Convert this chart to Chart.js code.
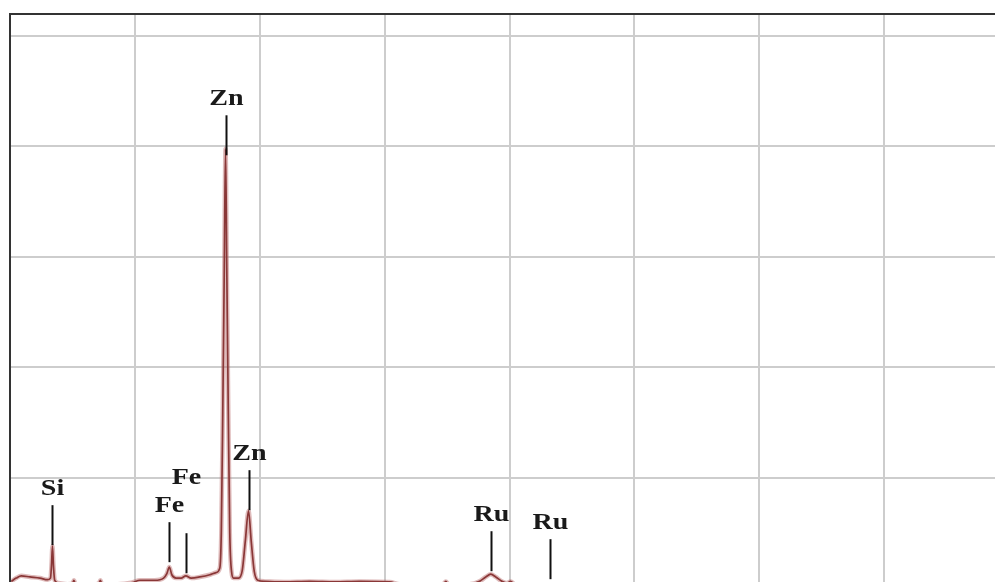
<!DOCTYPE html>
<html>
<head>
<meta charset="utf-8">
<script src="https://cdn.jsdelivr.net/npm/chart.js@4.4.0/dist/chart.umd.min.js"></script>
<style>
  html, body { margin: 0; padding: 0; background: #fff; overflow: hidden; }
  #wrap { width: 1012px; height: 600px; }
</style>
</head>
<body>
<div id="wrap"><canvas id="eds" width="1012" height="600"></canvas></div>
<script>
// EDS spectrum: energy (keV) vs intensity (arbitrary units)
const energyKeV = [
  0.05, 0.25, 0.45, 0.8, 1.2, 1.5, 1.62, 1.66, 1.70, 1.74, 1.79, 1.95,
  2.3, 2.5, 2.56, 2.62, 3.0, 3.55, 3.62, 3.68, 4.3, 4.9,
  5.2, 5.8, 6.15, 6.28, 6.38, 6.48, 6.65, 6.85, 7.04, 7.25, 7.6, 8.0,
  8.25, 8.40, 8.46, 8.52, 8.58, 8.63, 8.68, 8.74, 8.80, 8.87, 8.95,
  9.15, 9.3, 9.42, 9.55, 9.66, 9.78, 9.92, 10.2,
  11.0, 12.0, 13.0, 14.0, 15.2, 15.6, 16.5, 17.35, 17.45, 17.55, 18.4,
  18.8, 19.05, 19.25, 19.45, 19.7, 19.9, 20.05, 20.2, 21.0, 23.0, 30.0, 40.0
];
const intensity = [
  0.06, 0.09, 0.11, 0.10, 0.09, 0.075, 0.09, 0.20, 0.38, 0.20, 0.07, 0.045,
  0.035, 0.04, 0.07, 0.035, 0.03, 0.04, 0.07, 0.035, 0.035, 0.05,
  0.07, 0.07, 0.09, 0.13, 0.19, 0.12, 0.09, 0.09, 0.11, 0.09, 0.10, 0.12,
  0.14, 0.18, 0.50, 1.60, 2.90, 3.98, 2.90, 1.60, 0.50, 0.15, 0.09,
  0.09, 0.16, 0.42, 0.70, 0.42, 0.15, 0.07, 0.06,
  0.055, 0.06, 0.055, 0.06, 0.055, 0.035, 0.03, 0.035, 0.06, 0.035, 0.035,
  0.06, 0.10, 0.125, 0.10, 0.06, 0.045, 0.06, 0.035, 0.025, 0.02, 0.015, 0.01
];

// Element markers: label, line energy, height of the marker tip
const markerLabels = ['Si', 'Fe', 'Fe', 'Zn', 'Zn', 'Ru', 'Ru'];
const markerEnergy = [1.70, 6.38, 7.04, 8.63, 9.55, 19.25, 21.62];
const markerTip = [0.388, 0.234, 0.134, 3.92, 0.705, 0.152, 0.08];

const xGrid = [0, 5, 10, 15, 20, 25, 30, 35, 40];
const yGrid = [0, 1, 2, 3, 4, 5];

const points = energyKeV.map((e, i) => ({ x: e, y: intensity[i] }));

const markerPlugin = {
  id: 'elementMarkers',
  afterDatasetsDraw(chart) {
    const { ctx, scales: { x, y } } = chart;
    const fontSize = 23;
    const stretch = 1.22;
    const capH = fontSize * 0.68;
    const placed = [];
    ctx.save();
    ctx.font = 'bold ' + fontSize + 'px "Liberation Serif", "Times New Roman", serif';
    ctx.fillStyle = '#1a1a1a';
    ctx.strokeStyle = '#111';
    ctx.lineWidth = 2;
    markerLabels.forEach((label, i) => {
      const px = Math.round(x.getPixelForValue(markerEnergy[i])) + 0.5;
      const tip = y.getPixelForValue(markerTip[i]);
      const top = tip - 40;
      ctx.beginPath();
      ctx.moveTo(px, top);
      ctx.lineTo(px, tip);
      ctx.stroke();

      // push the label up when it would collide with one already drawn
      const w = ctx.measureText(label).width * stretch;
      let base = top - 10;
      let moved = true;
      while (moved) {
        moved = false;
        for (const b of placed) {
          const hit = px - w / 2 < b.r && px + w / 2 > b.l && base - capH < b.bottom && base > b.top;
          if (hit) { base = b.top - 13; moved = true; }
        }
      }
      placed.push({ l: px - w / 2, r: px + w / 2, top: base - capH, bottom: base });

      ctx.save();
      ctx.translate(px, base);
      ctx.scale(stretch, 1);
      ctx.textAlign = 'center';
      ctx.textBaseline = 'alphabetic';
      ctx.fillText(label, 0, 0);
      ctx.restore();
    });
    ctx.restore();
  }
};

const gridColor = '#cdcdcd';

new Chart(document.getElementById('eds'), {
  type: 'line',
  data: {
    datasets: [
      {
        // soft halo under the trace
        data: points,
        borderColor: 'rgba(185, 105, 105, 0.45)',
        borderWidth: 4.5,
        pointRadius: 0,
        cubicInterpolationMode: 'monotone'
      },
      {
        data: points,
        borderColor: '#641010',
        borderWidth: 1.7,
        pointRadius: 0,
        cubicInterpolationMode: 'monotone'
      }
    ]
  },
  options: {
    responsive: false,
    animation: false,
    devicePixelRatio: 1,
    layout: { padding: { left: 10, top: 14, right: 3, bottom: 12 } },
    plugins: { legend: { display: false }, tooltip: { enabled: false } },
    scales: {
      x: {
        type: 'linear',
        min: 0,
        max: 40,
        afterBuildTicks: s => { s.ticks = xGrid.map(v => ({ value: v })); },
        ticks: { display: false },
        grid: { color: gridColor, lineWidth: 2, drawTicks: false },
        border: { display: false }
      },
      xTop: {
        type: 'linear',
        position: 'top',
        min: 0,
        max: 40,
        ticks: { display: false },
        grid: { display: false, drawTicks: false },
        border: { color: '#333', width: 2, z: 1 }
      },
      y: {
        min: 0,
        max: 5.2,
        afterBuildTicks: s => { s.ticks = yGrid.map(v => ({ value: v })); },
        ticks: { display: false },
        grid: { color: gridColor, lineWidth: 2, drawTicks: false },
        border: { color: '#333', width: 2, z: 1 }
      }
    }
  },
  plugins: [markerPlugin]
});
</script>
</body>
</html>
